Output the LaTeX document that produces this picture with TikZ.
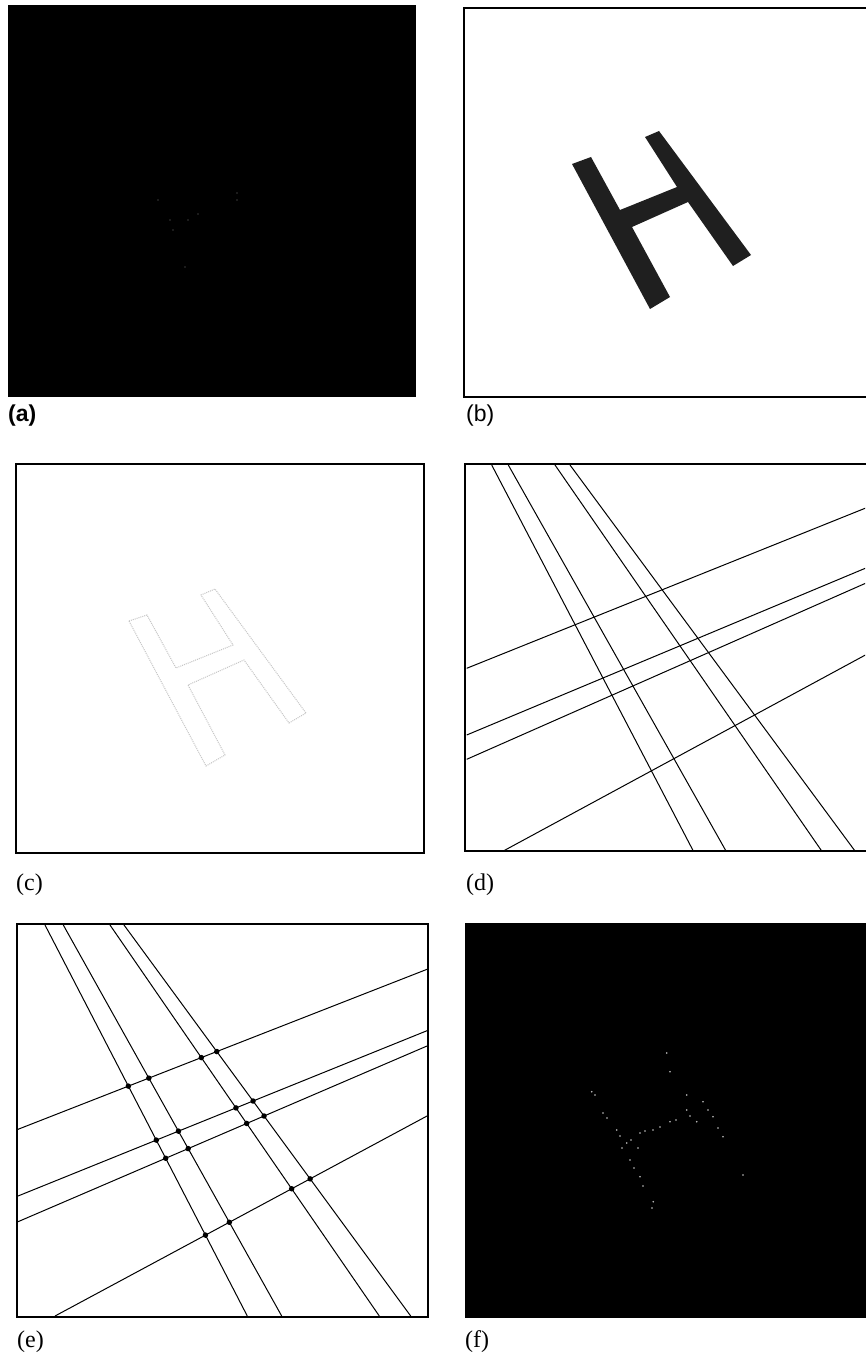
\documentclass[tikz,border=0pt]{standalone}
\usepackage{fontspec}
\usetikzlibrary{intersections}
\setmainfont{Liberation Serif}
\newfontfamily\labsans{Liberation Sans}
\begin{document}
\begin{tikzpicture}[x=1pt,y=-1pt,
  frame/.style={draw=black,line width=2pt},
  hline/.style={draw=black,line width=1pt},
  ipt/.style={fill=black,circle,inner sep=0pt,minimum size=5.5pt},
  spot/.style={fill=gray!45},
  faint/.style={fill=black!78},
  hfill/.style={fill=black!88},
  hedge/.style={draw=gray!45,line width=1pt,densely dotted},
  lab/.style={font=\fontsize{24}{26}\selectfont,anchor=base west,inner sep=0pt}]
\useasboundingbox (0,0) rectangle (865,1356);
\fill[white] (0,0) rectangle (865,1356);

% ---------------- (a)
\fill[black] (8,5) rectangle (416,397);
\foreach \p in {(158,200),(237,193),(237,200),(170,220),(173,230),(188,220),(198,214),(185,267)}
  \fill[faint] \p circle (0.8);
\node[lab,font=\labsans\bfseries\fontsize{23}{25}\selectfont] (la) at (8,421) {(a)};

% ---------------- (b)
\draw[frame,line width=1.6pt] (464,8) rectangle (880,397);
\fill[hfill] (572,164) -- (591,157) -- (620,210) -- (677,187) -- (645,137) -- (659,131)
  -- (751,255) -- (733,266) -- (688,202) -- (632,227) -- (670,297) -- (650,309) -- cycle;
\node[lab,font=\labsans\fontsize{23}{25}\selectfont] (lb) at (466,421) {(b)};

% ---------------- (c)
\draw[frame,line width=2.4pt] (16,464) rectangle (424,853);
\begin{scope}[shift={(-444,458)}]
\draw[hedge] (573,163) -- (591,157) -- (620,210) -- (677,187) -- (645,137) -- (659,131)
  -- (750,255) -- (733,265) -- (688,202) -- (632,227) -- (669,297) -- (650,308) -- cycle;
\end{scope}
\node[lab] (lc) at (16,890) {(c)};

% ---------------- (d)
\begin{scope}
\clip (465,464) rectangle (865,851);
\coordinate (dLa1) at (491.7,465);   \coordinate (dLb1) at (693.3,851);
\coordinate (dLa2) at (508.3,465);   \coordinate (dLb2) at (726,851);
\coordinate (dLa3) at (555,465);     \coordinate (dLb3) at (821.7,851);
\coordinate (dLa4) at (570,465);     \coordinate (dLb4) at (855,851);
\coordinate (dMa1) at (466.7,668.3); \coordinate (dMb1) at (870,506.3);
\coordinate (dMa2) at (466.7,735);   \coordinate (dMb2) at (870,566.3);
\coordinate (dMa3) at (466.7,759.3); \coordinate (dMb3) at (870,581.3);
\coordinate (dMa4) at (503.3,851);   \coordinate (dMb4) at (870,652.5);
\foreach \i in {1,...,4} {
  \draw[hline] (dLa\i) -- (dLb\i);
  \draw[hline] (dMa\i) -- (dMb\i);
}
\end{scope}
\draw[frame] (465,464) rectangle (880,851);
\node[lab] (ld) at (466,890) {(d)};

% ---------------- (e)
\coordinate (eLa1) at (45,925);     \coordinate (eLb1) at (247.3,1316);
\coordinate (eLa2) at (63.3,925);   \coordinate (eLb2) at (281.7,1316);
\coordinate (eLa3) at (110,925);    \coordinate (eLb3) at (379.3,1316);
\coordinate (eLa4) at (124,925);    \coordinate (eLb4) at (410.7,1316);
\coordinate (eMa1) at (18,1129.3);  \coordinate (eMb1) at (427,969.3);
\coordinate (eMa2) at (18,1196);    \coordinate (eMb2) at (427,1030.7);
\coordinate (eMa3) at (18,1221.7);  \coordinate (eMb3) at (427,1046);
\coordinate (eMa4) at (55,1316);    \coordinate (eMb4) at (427,1116);
\foreach \i in {1,...,4} {
  \draw[hline,name path global=p\i e] (eLa\i) -- (eLb\i);
  \draw[hline,name path global=q\i e] (eMa\i) -- (eMb\i);
}
\foreach \i in {1,...,4} {
  \foreach \j in {1,...,4} {
    \path[name intersections={of=p\i e and q\j e, by={x\i\j}}];
    \node[ipt] (n\i\j) at (x\i\j) {};
  }
}
\draw[frame] (17,924) rectangle (428,1317);
\node[lab] (le) at (17,1347) {(e)};

% ---------------- (f)
\fill[black] (465,923) rectangle (880,1318);
\foreach \p in {(591.7,1091.7),(595,1095),(603,1113),(607,1118),(616.7,1130),(620,1136),(626.7,1143),(631,1140),
  (640,1133),(645,1131),(653,1130),(660,1127),(670,1121.7),(676,1120),(686.7,1110),(690,1116),(696.7,1121.7),
  (703,1101.7),(708,1110),(713,1116.7),(718,1128),(723,1136.7),(666.7,1053),(670,1071.7),(686.7,1095),
  (630,1160),(634,1168),(640,1176.7),(643,1186),(653.3,1201.7),(652,1208),(743,1175),(638,1148),(622,1148)}
  \fill[spot] \p circle (0.9);
\node[lab] (lf) at (465,1347) {(f)};
\end{tikzpicture}
\end{document}
